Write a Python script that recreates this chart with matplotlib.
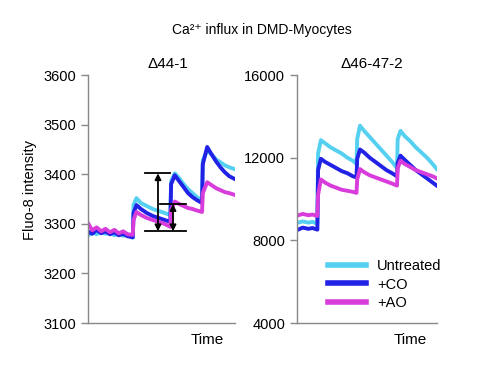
import matplotlib
matplotlib.use('Agg')
import matplotlib.pyplot as plt

plt.rcParams['font.family'] = ['Liberation Sans', 'DejaVu Sans']

# 左图 Δ44-1 的时间与荧光值
t_left = [0, 3, 6, 9, 12, 15, 18, 21, 24, 27, 30.5,
          31, 33, 36, 40, 44, 48, 52, 56,
          56.5, 59, 62, 65, 68, 71, 74, 77.5,
          78, 81, 84, 87, 90, 93, 96, 100]
untreated_left = [3276, 3284, 3279, 3286, 3280, 3283, 3277, 3281, 3276, 3278, 3272,
                  3338, 3352, 3342, 3336, 3330, 3326, 3322, 3318,
                  3386, 3402, 3392, 3380, 3370, 3362, 3354, 3348,
                  3428, 3448, 3440, 3430, 3424, 3418, 3414, 3410]
co_left = [3285, 3280, 3288, 3281, 3285, 3279, 3283, 3277, 3280, 3275, 3273,
           3322, 3338, 3330, 3322, 3316, 3312, 3308, 3304,
           3380, 3398, 3386, 3374, 3362, 3354, 3348, 3342,
           3420, 3455, 3440, 3426, 3414, 3404, 3396, 3390]
ao_left = [3302, 3287, 3293, 3285, 3290, 3283, 3288, 3281, 3285, 3279, 3278,
           3308, 3324, 3318, 3312, 3308, 3304, 3300, 3294,
           3328, 3345, 3340, 3336, 3332, 3330, 3327, 3324,
           3362, 3384, 3378, 3372, 3368, 3364, 3362, 3358]

# 右图 Δ46-47-2
t_right = [0, 4, 8, 11, 14.5,
           15, 17, 20, 24, 28, 32, 36, 40, 42.5,
           43, 45, 48, 52, 56, 60, 64, 68, 71.5,
           72, 74, 77, 81, 85, 89, 93, 97, 100]
untreated_right = [8850, 8920, 8860, 8900, 8800,
                   12200, 12850, 12700, 12500, 12350, 12200, 12000, 11850, 11700,
                   12900, 13550, 13300, 13000, 12700, 12400, 12100, 11800, 11500,
                   12900, 13300, 13050, 12800, 12500, 12250, 12000, 11700, 11450]
co_right = [8500, 8620, 8560, 8600, 8520,
            11400, 11950, 11800, 11650, 11500, 11350, 11250, 11100, 11050,
            11950, 12400, 12250, 12000, 11800, 11600, 11400, 11250, 11100,
            11750, 12100, 11900, 11650, 11400, 11200, 11000, 10800, 10650]
ao_right = [9200, 9280, 9220, 9250, 9180,
            10200, 10950, 10800, 10650, 10550, 10450, 10400, 10350, 10300,
            10950, 11450, 11300, 11150, 11050, 10950, 10850, 10750, 10650,
            11500, 11850, 11700, 11550, 11400, 11300, 11200, 11100, 11000]

labels = ['Untreated', '+CO', '+AO']
colors = ['#55d0f0', '#2222e6', '#d83ddc']

# 箭头标注 (左图)
bracket_levels = [3402, 3340, 3285]

fig = plt.figure(figsize=(4.8, 3.81), dpi=100)
ax1 = fig.add_axes([0.183, 0.152, 0.307, 0.651])
ax2 = fig.add_axes([0.619, 0.152, 0.291, 0.651])

for ax, t, series in [(ax1, t_left, [untreated_left, co_left, ao_left]),
                      (ax2, t_right, [untreated_right, co_right, ao_right])]:
    for y, c, lab in zip(series, colors, labels):
        ax.plot(t, y, color=c, lw=2.8, label=lab, solid_joinstyle='round')
    ax.set_xlim(0, 100)
    ax.set_xticks([])
    for s in ['top', 'right']:
        ax.spines[s].set_visible(False)
    for s in ['left', 'bottom']:
        ax.spines[s].set_color('#888888')
        ax.spines[s].set_linewidth(1.0)
    ax.tick_params(axis='y', colors='#888888', labelcolor='black',
                   labelsize=10.5, length=5, width=1.0)
    ax.text(0.81, -0.04, 'Time', transform=ax.transAxes, ha='center', va='top',
            fontsize=11)

ax1.set_ylim(3100, 3600)
ax1.set_yticks([3100, 3200, 3300, 3400, 3500, 3600])
ax2.set_ylim(4000, 16000)
ax2.set_yticks([4000, 8000, 12000, 16000])

ax1.text(0.544, 1.015, 'Δ44-1', transform=ax1.transAxes, ha='center', va='bottom',
         fontsize=11)
ax2.text(0.535, 1.015, 'Δ46-47-2', transform=ax2.transAxes, ha='center', va='bottom',
         fontsize=11)

# 标注线与双向箭头
top, mid, bot = bracket_levels
ax1.plot([38.8, 56], [top, top], color='black', lw=1.3)
ax1.plot([49, 66.7], [mid, mid], color='black', lw=1.3)
ax1.plot([38.8, 66.7], [bot, bot], color='black', lw=1.3)
arrow_kw = dict(arrowstyle='<|-|>', color='black', lw=1.3, mutation_scale=9,
                shrinkA=0, shrinkB=0)
ax1.annotate('', xy=(47.6, top), xytext=(47.6, bot), arrowprops=arrow_kw)
ax1.annotate('', xy=(57.8, mid), xytext=(57.8, bot), arrowprops=arrow_kw)

ax2.legend(loc='lower right', bbox_to_anchor=(1.13, 0.0), frameon=False,
           fontsize=10.5, handlelength=2.6, handletextpad=0.8, labelspacing=0.3)
for line in ax2.get_legend().get_lines():
    line.set_linewidth(4)

fig.text(0.546, 0.921, 'Ca²⁺ influx in DMD-Myocytes', ha='center', va='center',
         fontsize=10)
fig.text(0.062, 0.5, 'Fluo-8 intensity', rotation=90, ha='center', va='center',
         fontsize=10.5)

fig.savefig('out.png', dpi=100)
